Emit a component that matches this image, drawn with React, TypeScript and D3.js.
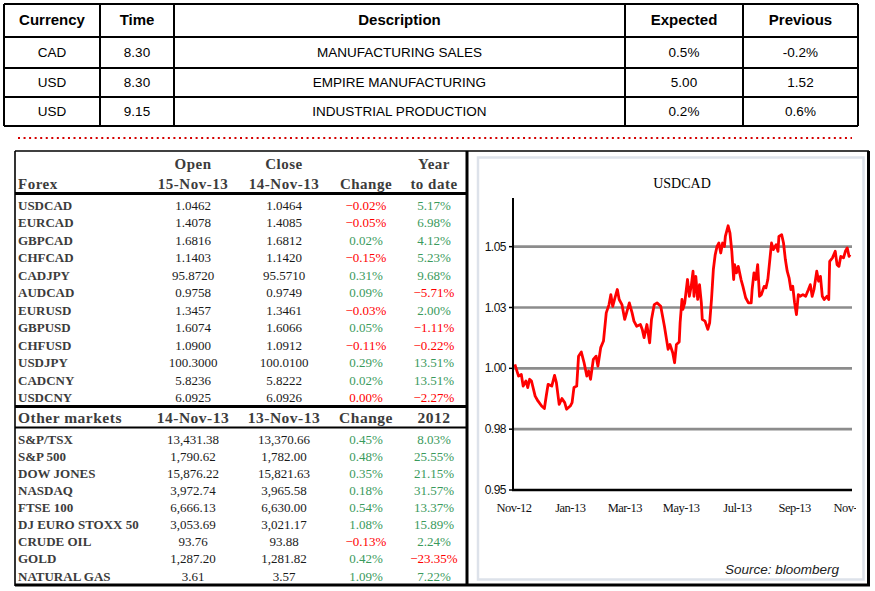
import React from "react";
import * as d3 from "d3";

// ---------- Top calendar table ----------
const calHeaders = ["Currency", "Time", "Description", "Expected", "Previous"];
const calCurrency = ["CAD", "USD", "USD"];
const calTime = ["8.30", "8.30", "9.15"];
const calDescription = ["MANUFACTURING SALES", "EMPIRE MANUFACTURING", "INDUSTRIAL PRODUCTION"];
const calExpected = ["0.5%", "5.00", "0.2%"];
const calPrevious = ["-0.2%", "1.52", "0.6%"];

// ---------- Forex table ----------
const forexNames = ["USDCAD", "EURCAD", "GBPCAD", "CHFCAD", "CADJPY", "AUDCAD", "EURUSD", "GBPUSD", "CHFUSD", "USDJPY", "CADCNY", "USDCNY"];
const forexOpen = ["1.0462", "1.4078", "1.6816", "1.1403", "95.8720", "0.9758", "1.3457", "1.6074", "1.0900", "100.3000", "5.8236", "6.0925"];
const forexClose = ["1.0464", "1.4085", "1.6812", "1.1420", "95.5710", "0.9749", "1.3461", "1.6066", "1.0912", "100.0100", "5.8222", "6.0926"];
const forexChange = [-0.02, -0.05, 0.02, -0.15, 0.31, 0.09, -0.03, 0.05, -0.11, 0.29, 0.02, 0.0];
const forexYtd = [5.17, 6.98, 4.12, 5.23, 9.68, -5.71, 2.0, -1.11, -0.22, 13.51, 13.51, -2.27];

// ---------- Other markets table ----------
const mktNames = ["S&P/TSX", "S&P 500", "DOW JONES", "NASDAQ", "FTSE 100", "DJ EURO STOXX 50", "CRUDE OIL", "GOLD", "NATURAL GAS"];
const mktOpen = ["13,431.38", "1,790.62", "15,876.22", "3,972.74", "6,666.13", "3,053.69", "93.76", "1,287.20", "3.61"];
const mktClose = ["13,370.66", "1,782.00", "15,821.63", "3,965.58", "6,630.00", "3,021.17", "93.88", "1,281.82", "3.57"];
const mktChange = [0.45, 0.48, 0.35, 0.18, 0.54, 1.08, -0.13, 0.42, 1.09];
const mktYtd = [8.03, 25.55, 21.15, 31.57, 13.37, 15.89, 2.24, -23.35, 7.22];

// ---------- USDCAD chart ----------
const chartStart = "2012-11-15";
const chartEnd = "2013-11-15";
const dayOffsets = [2,6,9,11,14,16,18,20,24,27,31,34,36,38,42,45,47,50,53,56,58,62,64,66,69,71,74,77,80,82,84,87,90,92,95,98,101,104,106,108,110,113,115,118,121,123,126,129,131,134,138,140,142,145,148,150,153,156,160,164,168,170,173,175,177,180,181,183,184,186,189,191,193,195,196,198,200,202,204,205,208,211,213,215,217,219,221,223,225,227,229,230,233,235,237,239,240,242,244,247,249,252,255,258,259,261,263,265,267,269,272,274,276,278,280,282,285,287,288,291,293,295,297,299,301,303,305,307,309,311,314,317,320,322,324,326,329,331,333,335,337,340,342,343,346,349,351,353,355,358,360,362,364,365];
const usdcad = [1.0016,0.9968,0.9975,0.9927,0.9948,0.9921,0.9955,0.9948,0.9886,0.9866,0.9845,0.9835,0.9886,0.9934,0.9927,0.9971,0.9941,0.9852,0.9876,0.9859,0.9832,0.9845,0.9859,0.9921,0.9927,1.0050,1.0067,1.0023,0.9968,0.9989,0.9955,1.0037,1.0050,1.0009,1.0085,1.0112,1.0228,1.0262,1.0303,1.0255,1.0283,1.0324,1.0283,1.0262,1.0201,1.0228,1.0269,1.0228,1.0194,1.0173,1.0180,1.0160,1.0126,1.0180,1.0105,1.0201,1.0262,1.0269,1.0255,1.0173,1.0078,1.0098,1.0064,1.0023,1.0098,1.0108,1.0187,1.0283,1.0242,1.0269,1.0365,1.0296,1.0337,1.0399,1.0296,1.0378,1.0283,1.0344,1.0269,1.0201,1.0194,1.0160,1.0187,1.0283,1.0406,1.0467,1.0501,1.0515,1.0474,1.0515,1.0501,1.0542,1.0586,1.0556,1.0481,1.0365,1.0426,1.0392,1.0419,1.0365,1.0337,1.0290,1.0269,1.0269,1.0324,1.0392,1.0365,1.0426,1.0296,1.0303,1.0337,1.0331,1.0365,1.0440,1.0515,1.0488,1.0508,1.0481,1.0542,1.0549,1.0515,1.0447,1.0399,1.0372,1.0324,1.0337,1.0269,1.0221,1.0303,1.0296,1.0303,1.0296,1.0324,1.0344,1.0296,1.0324,1.0399,1.0358,1.0378,1.0296,1.0283,1.0296,1.0283,1.0440,1.0454,1.0481,1.0426,1.0419,1.0460,1.0454,1.0481,1.0495,1.0460,1.0467];
const yTickValues = [0.95, 0.975, 1.0, 1.025, 1.05];
const yTickLabels = ["0.95", "0.98", "1.00", "1.03", "1.05"];
const xTickDates = ["2012-11-15", "2013-01-15", "2013-03-15", "2013-05-15", "2013-07-15", "2013-09-15", "2013-11-15"];
const xTickLabels = ["Nov-12", "Jan-13", "Mar-13", "May-13", "Jul-13", "Sep-13", "Nov-13"];

const RED = "#ff0000";
const GREEN = "#3a9a5c";
const SERIF = "'Liberation Serif', 'Times New Roman', serif";
const SANS = "'Liberation Sans', Arial, sans-serif";

const parse = d3.timeParse("%Y-%m-%d");
const fmtPct = (v: number) => d3.format(".2f")(v) + "%";

export default function App() {
  // top table geometry
  const calCols = [4, 100, 174, 625, 743, 858];
  const calRows = [4, 37, 68, 97, 126];
  const calColCenters = calCols.slice(0, -1).map((c, i) => (c + calCols[i + 1]) / 2);
  const calData = [calCurrency, calTime, calDescription, calExpected, calPrevious];

  // left table
  const tL = 15, tR = 466;
  const colOpen = 193, colClose = 284, colChange = 366, colYtd = 434;
  const forexY = d3.scaleLinear().domain([0, forexNames.length - 1]).range([205, 397.5]);
  const mktY = d3.scaleLinear().domain([0, mktNames.length - 1]).range([439, 576]);

  // chart
  const start = parse(chartStart)!;
  const x = d3.scaleTime().domain([start, parse(chartEnd)!]).range([513, 850]);
  const y = d3.scaleLinear().domain([0.95, 1.07]).range([490, 198]);
  const pts = dayOffsets.map((d, i) => ({ date: d3.timeDay.offset(start, d), v: usdcad[i] }));
  const line = d3.line<{ date: Date; v: number }>().x(d => x(d.date)).y(d => y(d.v));

  const labelStyle = { fontFamily: SERIF, fontWeight: 700, fill: "#3c3c3c" } as const;
  const numStyle = { fontFamily: SERIF, fill: "#1a1a1a", fontSize: 13 } as const;

  return (
    <svg width={875} height={591} style={{ position: "absolute", left: 0, top: 0, background: "#fff" }}>
      <defs>
        <clipPath id="xlabclip">
          <rect x={478} y={495} width={378} height={30} />
        </clipPath>
      </defs>
      <rect x={0} y={0} width={875} height={591} fill="#fff" />

      {/* ---- top table ---- */}
      {calRows.map((r, i) => (
        <line key={"cr" + i} x1={calCols[0]} x2={calCols[5]} y1={r} y2={r} stroke="#000" strokeWidth={2} />
      ))}
      {calCols.map((c, i) => (
        <line key={"cc" + i} x1={c} x2={c} y1={calRows[0]} y2={calRows[4]} stroke="#000" strokeWidth={2} />
      ))}
      {calHeaders.map((h, i) => (
        <text key={"ch" + i} x={calColCenters[i]} y={25} textAnchor="middle" fontFamily={SANS} fontWeight={700} fontSize={15} fill="#000">{h}</text>
      ))}
      {calData.map((col, ci) =>
        col.map((v, ri) => (
          <text key={"cd" + ci + "-" + ri} x={calColCenters[ci]} y={[57, 87, 116][ri]} textAnchor="middle" fontFamily={SANS} fontSize={13.5} fill="#000">{v}</text>
        ))
      )}

      {/* ---- dotted separator ---- */}
      <line x1={18} x2={852} y1={138} y2={138} stroke="#d40000" strokeWidth={2.2} strokeDasharray="2 3.55" />

      {/* ---- outer frame ---- */}
      <line x1={tL} x2={869} y1={151} y2={151} stroke="#000" strokeWidth={1.6} />
      <line x1={tL} x2={tL} y1={151} y2={586} stroke="#000" strokeWidth={1.6} />
      <line x1={tL} x2={870} y1={585} y2={585} stroke="#000" strokeWidth={3} />
      <line x1={868.5} x2={868.5} y1={151} y2={586} stroke="#000" strokeWidth={3} />
      <line x1={tR + 1} x2={tR + 1} y1={151} y2={586} stroke="#000" strokeWidth={3} />

      {/* ---- left table headers ---- */}
      <g style={labelStyle} fontSize={15} letterSpacing={0.5}>
        <text x={colOpen} y={169} textAnchor="middle">Open</text>
        <text x={colClose} y={169} textAnchor="middle">Close</text>
        <text x={colYtd} y={169} textAnchor="middle">Year</text>
        <text x={18} y={189}>Forex</text>
        <text x={colOpen} y={189} textAnchor="middle">15-Nov-13</text>
        <text x={colClose} y={189} textAnchor="middle">14-Nov-13</text>
        <text x={colChange} y={189} textAnchor="middle">Change</text>
        <text x={colYtd} y={189} textAnchor="middle">to date</text>
      </g>
      <line x1={tL} x2={tR} y1={193.5} y2={193.5} stroke="#000" strokeWidth={3} />

      {forexNames.map((n, i) => {
        const cy = forexY(i) + 4.5;
        return (
          <g key={"fx" + i}>
            <text x={18} y={cy} style={labelStyle} fontSize={13}>{n}</text>
            <text x={colOpen} y={cy} textAnchor="middle" style={numStyle}>{forexOpen[i]}</text>
            <text x={colClose} y={cy} textAnchor="middle" style={numStyle}>{forexClose[i]}</text>
            <text x={colChange} y={cy} textAnchor="middle" fontFamily={SERIF} fontSize={13} fill={forexChange[i] <= 0 ? RED : GREEN}>{fmtPct(forexChange[i])}</text>
            <text x={colYtd} y={cy} textAnchor="middle" fontFamily={SERIF} fontSize={13} fill={forexYtd[i] <= 0 ? RED : GREEN}>{fmtPct(forexYtd[i])}</text>
          </g>
        );
      })}

      <line x1={tL} x2={tR} y1={406.5} y2={406.5} stroke="#000" strokeWidth={3} />
      <g style={labelStyle} fontSize={15.5} letterSpacing={0.5}>
        <text x={18} y={423}>Other markets</text>
        <text x={colOpen} y={423} textAnchor="middle">14-Nov-13</text>
        <text x={colClose} y={423} textAnchor="middle">13-Nov-13</text>
        <text x={colChange} y={423} textAnchor="middle">Change</text>
        <text x={colYtd} y={423} textAnchor="middle">2012</text>
      </g>
      <line x1={tL} x2={tR} y1={427.5} y2={427.5} stroke="#000" strokeWidth={2.2} />

      {mktNames.map((n, i) => {
        const cy = mktY(i) + 4.5;
        return (
          <g key={"mk" + i}>
            <text x={18} y={cy} style={labelStyle} fontSize={13}>{n}</text>
            <text x={colOpen} y={cy} textAnchor="middle" style={numStyle}>{mktOpen[i]}</text>
            <text x={colClose} y={cy} textAnchor="middle" style={numStyle}>{mktClose[i]}</text>
            <text x={colChange} y={cy} textAnchor="middle" fontFamily={SERIF} fontSize={13} fill={mktChange[i] <= 0 ? RED : GREEN}>{fmtPct(mktChange[i])}</text>
            <text x={colYtd} y={cy} textAnchor="middle" fontFamily={SERIF} fontSize={13} fill={mktYtd[i] <= 0 ? RED : GREEN}>{fmtPct(mktYtd[i])}</text>
          </g>
        );
      })}

      {/* ---- chart panel ---- */}
      <rect x={478} y={157.5} width={385.5} height={422} fill="none" stroke="#dde2ea" strokeWidth={2.5} />
      <text x={682} y={188} textAnchor="middle" fontFamily={SERIF} fontSize={14} fill="#000">USDCAD</text>

      {yTickValues.map((t, i) => (
        <g key={"yt" + i}>
          {i > 0 && <line x1={513} x2={852} y1={y(t)} y2={y(t)} stroke="#8c8c8c" strokeWidth={2.6} />}
          <line x1={509} x2={513} y1={y(t)} y2={y(t)} stroke="#000" strokeWidth={1.5} />
          <text x={506} y={y(t) + 4} textAnchor="end" fontFamily={SANS} fontSize={12} letterSpacing={-0.5} fill="#111">{yTickLabels[i]}</text>
        </g>
      ))}

      <path d={line(pts) || ""} fill="none" stroke={RED} strokeWidth={2.8} strokeLinejoin="round" />

      <line x1={513} x2={513} y1={198} y2={491} stroke="#000" strokeWidth={2} />
      <line x1={512} x2={852} y1={490} y2={490} stroke="#000" strokeWidth={2.5} />
      <g clipPath="url(#xlabclip)">
        {xTickDates.map((d, i) => {
          const px = x(parse(d)!);
          return (
            <g key={"xt" + i}>
              <line x1={px} x2={px} y1={490} y2={495} stroke="#000" strokeWidth={1.5} />
              <text x={px + 1} y={512} textAnchor="middle" fontFamily={SERIF} fontSize={12.5} letterSpacing={-0.5} fill="#111">{xTickLabels[i]}</text>
            </g>
          );
        })}
      </g>

      <text x={839} y={574} textAnchor="end" fontFamily={SANS} fontStyle="italic" fontSize={13.5} fill="#222">Source: bloomberg</text>
    </svg>
  );
}
